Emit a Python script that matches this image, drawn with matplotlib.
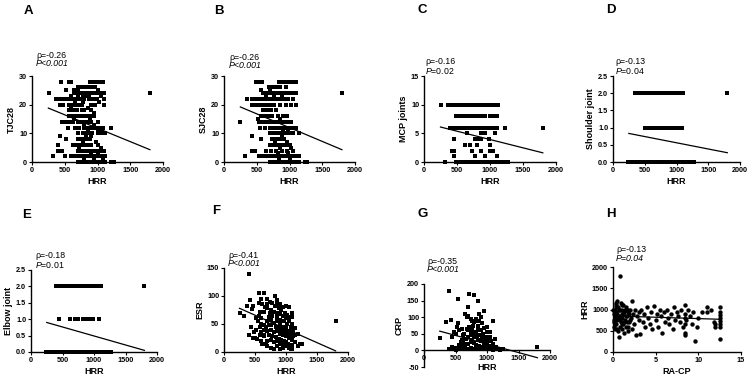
import numpy as np
import matplotlib
matplotlib.use("Agg")
import matplotlib.pyplot as plt

plt.rcParams['font.family'] = ['Liberation Sans', 'DejaVu Sans']
plt.rcParams['font.weight'] = 'bold'
plt.rcParams['mathtext.fontset'] = 'custom'
plt.rcParams['mathtext.rm'] = 'Liberation Sans:weight=normal'
plt.rcParams['mathtext.it'] = 'Liberation Sans:style=italic:weight=normal'

# ============================================================
# DATA
# ============================================================

# A: HRR vs TJC28, x values per TJC28 level
tjc28_rows = {
    28: [450, 560, 600, 880, 930, 980, 1030, 1090],
    26: [700, 740, 780, 820, 860, 900, 960],
    25: [520, 640, 700, 1000],
    24: [260, 640, 680, 720, 760, 800, 850, 900, 950, 1000, 1050, 1100, 1800],
    23: [600, 700, 780, 820, 870, 1060],
    22: [360, 420, 480, 530, 580, 640, 700, 740, 800, 870, 930, 990, 1100],
    21: [660, 780, 1020],
    20: [420, 480, 560, 610, 660, 700, 760, 900, 960, 1100],
    19: [600, 850],
    18: [560, 620, 680, 760, 800, 900],
    17: [950],
    16: [560, 600, 650, 700, 740, 800, 850, 900, 950],
    15: [640, 880],
    14: [460, 520, 580, 630, 700, 760, 800, 860, 900, 1000],
    13: [800, 950],
    12: [550, 650, 720, 800, 850, 900, 960, 1020, 1080, 1200],
    11: [850, 1000, 1050],
    10: [700, 780, 830, 880, 920, 1000, 1070, 1120],
    9: [430, 830, 900],
    8: [520, 700, 760, 820, 880],
    7: [780, 980],
    6: [400, 620, 680, 740, 800, 860, 900, 1000],
    5: [720, 1050],
    4: [400, 460, 700, 760, 820, 880, 940, 1000, 1060, 1100],
    3: [900, 1000],
    2: [320, 510, 600, 650, 700, 760, 820, 880, 940, 1000, 1060, 1120],
    1: [800, 950, 1080],
    0: [700, 760, 820, 880, 940, 1000, 1060, 1120, 1200, 1250],
}

# B: HRR vs SJC28
sjc28_rows = {
    28: [490, 540, 580, 840, 890, 940, 990, 1040, 1100],
    26: [680, 740, 800, 860, 940],
    25: [560, 700],
    24: [600, 650, 700, 750, 800, 850, 900, 950, 1000, 1050, 1100, 1800],
    23: [640, 760, 880],
    22: [350, 420, 470, 520, 580, 630, 690, 740, 800, 860, 920, 980, 1050],
    20: [420, 470, 540, 600, 650, 700, 760, 850, 940, 1020, 1100],
    18: [600, 660, 720, 800],
    16: [560, 620, 680, 740, 820, 900, 960],
    15: [520, 860],
    14: [250, 540, 600, 660, 720, 780, 840, 900, 960, 1020],
    12: [550, 620, 700, 760, 820, 880, 940, 1000, 1060, 1100],
    11: [900, 980],
    10: [700, 760, 820, 880, 940, 1000, 1060, 1150],
    9: [430, 880],
    8: [560, 740, 800, 860, 920],
    7: [780, 960],
    6: [700, 760, 820, 880, 940, 1000],
    5: [860, 1020],
    4: [420, 470, 640, 720, 800, 880, 960, 1050],
    3: [820, 980],
    2: [320, 530, 600, 660, 720, 780, 840, 900, 960, 1020, 1080, 1150],
    1: [840, 1000],
    0: [700, 760, 820, 880, 940, 1000, 1060, 1120, 1150, 1230, 1260],
}

# C: HRR vs MCP joints
mcp_rows = {
    10: [250, 370, 410, 450, 480, 520, 560, 600, 640, 680, 720, 760, 800, 840,
         880, 920, 960, 1000, 1040, 1080, 1120],
    8: [490, 530, 570, 610, 650, 690, 730, 770, 800, 840, 880, 930, 1000, 1040, 1080, 1100],
    6: [400, 440, 480, 520, 560, 600, 640, 680, 720, 760, 800, 840, 880, 920,
        960, 1000, 1040, 1080, 1110, 1220, 1810],
    5: [650, 860, 920, 1080],
    4: [460, 770, 810, 860, 980],
    3: [620, 690, 800, 1000],
    2: [420, 460, 720, 860, 1000, 1050],
    1: [460, 780, 930, 1110],
    0: [320, 490, 530, 570, 610, 650, 690, 730, 770, 810, 850, 890, 930, 970,
        1010, 1050, 1090, 1130, 1160, 1230, 1270],
}

# D: HRR vs shoulder joint
shoulder_rows = {
    2: [350, 400, 440, 480, 520, 560, 600, 640, 680, 720, 760, 800, 840, 880,
        920, 960, 1000, 1040, 1080, 1110, 1800],
    1: [500, 540, 580, 620, 660, 700, 740, 780, 820, 860, 900, 940, 980, 1020, 1090],
    0: [240, 280, 320, 380, 420, 460, 500, 540, 580, 620, 660, 700, 740, 780,
        820, 860, 900, 940, 980, 1020, 1060, 1100, 1140, 1180, 1220, 1270],
}

# E: HRR vs elbow joint
elbow_rows = {
    2: [400, 440, 480, 520, 560, 600, 640, 680, 720, 760, 800, 840, 880, 920,
        960, 1000, 1040, 1080, 1110, 1800],
    1: [440, 620, 700, 740, 830, 870, 910, 960, 990, 1080],
    0: [240, 280, 320, 360, 400, 440, 480, 520, 560, 600, 640, 680, 720, 760,
        800, 840, 880, 920, 960, 1000, 1040, 1080, 1120, 1160, 1200, 1240, 1270],
}

# F: HRR vs ESR
esr_pts = [
    (250, 70), (320, 65), (370, 82), (400, 140), (420, 92), (450, 76), (470, 82),
    (430, 45), (400, 30), (460, 25), (500, 25), (540, 24), (480, 35), (520, 40),
    (560, 105), (650, 105), (600, 95), (560, 88), (620, 85), (700, 95), (740, 90),
    (780, 88), (820, 100), (860, 92), (900, 85), (950, 80), (1000, 82), (1050, 80),
    (1100, 70), (560, 65), (600, 60), (650, 72), (700, 78), (750, 75), (800, 72),
    (850, 70), (900, 68), (950, 65), (1000, 60), (1050, 55), (1100, 50), (600, 50),
    (650, 48), (700, 55), (750, 58), (800, 52), (850, 55), (900, 50), (950, 45),
    (1000, 42), (1050, 38), (1100, 35), (1150, 30), (1200, 32), (600, 35), (650, 30),
    (700, 38), (750, 40), (800, 35), (850, 38), (900, 32), (950, 30), (1000, 28),
    (1050, 25), (1100, 22), (1150, 18), (1200, 10), (1250, 15), (620, 15), (680, 14),
    (700, 20), (750, 22), (800, 18), (850, 20), (900, 15), (950, 12), (1000, 10),
    (1050, 8), (1080, 5), (1100, 12), (750, 8), (800, 6), (850, 10), (900, 5),
    (950, 8), (700, 10), (650, 28), (550, 55), (520, 60), (580, 72), (720, 62),
    (780, 64), (820, 82), (880, 78), (920, 75), (980, 70), (1020, 66), (1060, 62),
    (760, 48), (840, 45), (880, 42), (920, 40), (960, 38), (1000, 35), (1040, 32),
    (1080, 30), (1120, 28), (720, 30), (780, 28), (840, 26), (880, 24), (920, 22),
    (960, 20), (1000, 18), (1040, 15), (1100, 5), (1800, 56), (1230, 15), (1150, 42),
    (1100, 62), (850, 85), (700, 85), (660, 80), (740, 70), (860, 62), (900, 58),
    (960, 55), (1020, 50), (1080, 45), (1120, 40), (640, 40), (680, 45), (720, 48),
    (580, 45), (600, 20), (580, 30),
]

# G: HRR vs CRP
crp_pts = [
    (250, 37), (350, 86), (400, 180), (430, 92), (450, 40), (470, 55), (500, 50),
    (520, 70), (540, 155), (540, 82), (560, 60), (600, 65), (620, 45), (650, 110),
    (680, 100), (700, 132), (720, 170), (700, 105), (740, 95), (800, 168), (850, 148),
    (760, 88), (800, 85), (840, 90), (880, 88), (920, 82), (960, 120), (1000, 70),
    (1050, 55), (1100, 88), (620, 30), (660, 35), (700, 40), (740, 45), (780, 50),
    (820, 55), (860, 60), (900, 62), (940, 50), (980, 40), (1020, 35), (1060, 28),
    (1100, 20), (1150, 10), (1200, 5), (1250, 3), (450, 10), (500, 8), (550, 15),
    (600, 12), (650, 20), (700, 18), (750, 25), (800, 22), (850, 30), (900, 28),
    (950, 20), (1000, 15), (1050, 12), (1100, 8), (400, 5), (450, 3), (500, 2),
    (550, 5), (600, 3), (650, 6), (700, 4), (750, 8), (800, 5), (850, 3), (900, 6),
    (950, 4), (1000, 5), (1050, 3), (1100, 2), (1150, 4), (1200, 2), (680, 65),
    (720, 70), (760, 62), (800, 40), (840, 42), (880, 45), (920, 38), (960, 32),
    (1000, 25), (600, 30), (640, 50), (580, 25), (760, 30), (820, 15), (880, 12),
    (940, 10), (1800, 10), (780, 75), (860, 75), (900, 100), (880, 110), (830, 95),
    (750, 55), (700, 60), (1000, 55), (950, 68), (1050, 40), (1120, 35),
]

# H: RA-CP vs HRR
racp_pts = [
    (0.8, 1790), (0.1, 700), (0.1, 900), (0.2, 550), (0.2, 1000), (0.3, 800),
    (0.3, 1100), (0.4, 650), (0.4, 950), (0.5, 1200), (0.5, 750), (0.6, 1050),
    (0.6, 500), (0.7, 850), (0.7, 350), (0.8, 1000), (0.8, 600), (0.9, 1150),
    (0.9, 700), (1.0, 900), (1.0, 550), (1.1, 1000), (1.1, 800), (1.2, 650),
    (1.2, 1100), (1.3, 950), (1.3, 450), (1.4, 750), (1.5, 1050), (1.5, 600),
    (1.6, 850), (1.7, 500), (1.8, 950), (1.9, 700), (2.0, 1000), (2.1, 800),
    (2.2, 1200), (2.2, 550), (2.3, 900), (2.5, 650), (2.6, 1000), (2.7, 400),
    (2.8, 850), (3.0, 750), (3.1, 950), (3.2, 420), (3.3, 1000), (3.5, 700),
    (3.6, 900), (3.8, 600), (4.0, 1050), (4.1, 800), (4.3, 650), (4.5, 950),
    (4.6, 550), (4.8, 1080), (5.0, 750), (5.1, 900), (5.3, 600), (5.5, 1000),
    (5.6, 850), (5.8, 450), (6.0, 950), (6.1, 700), (6.3, 1000), (6.5, 800),
    (6.6, 650), (6.8, 900), (7.0, 550), (7.1, 1050), (7.3, 750), (7.5, 950),
    (7.6, 850), (7.8, 700), (8.0, 1000), (8.2, 600), (8.4, 1100), (8.4, 900),
    (8.4, 800), (8.4, 650), (8.4, 450), (8.4, 400), (8.6, 750), (8.8, 1000),
    (9.0, 850), (9.2, 650), (9.4, 950), (9.6, 250), (9.8, 600), (10.0, 800),
    (10.4, 950), (11.0, 1070), (11.0, 950), (11.5, 1000), (11.8, 700), (12.0, 650),
    (12.0, 580), (12.5, 1050), (12.5, 950), (12.5, 870), (12.5, 800), (12.5, 720),
    (12.5, 650), (12.5, 580), (12.5, 300), (0.1, 600), (0.2, 850), (0.3, 950),
    (0.4, 1150), (0.5, 900), (0.6, 800), (0.7, 1000), (0.8, 750), (0.9, 850),
    (1.0, 1100), (1.1, 650), (1.2, 900), (1.3, 700), (1.4, 1000), (1.5, 850),
    (1.6, 700), (1.7, 1000), (1.8, 600), (1.9, 900), (2.0, 750), (0.05, 1000),
    (0.15, 750), (0.25, 650), (0.35, 1050), (0.45, 550),
]

# fitted regression lines (x start/end, y start/end) as drawn in the figure
fit_x_hrr = [250, 1800]
fit_a = [18.8, 4.3]
fit_b = [19.2, 4.3]
fit_c = [6.1, 1.6]
fit_d = [0.83, 0.27]
fit_e = [0.9, 0.05]
fit_f = [78, 2]
fit_g = [58, -22]
fit_x_racp = [0, 12.5]
fit_h = [850, 770]

rho_text = ["ρ=-0.26", "ρ=-0.26", "ρ=-0.16", "ρ=-0.13",
            "ρ=-0.18", "ρ=-0.41", "ρ=-0.35", "ρ=-0.13"]
p_text = ["P<0.001", "P<0.001", r"$\mathit{P}$=0.02", r"$\mathit{P}$=0.04",
          r"$\mathit{P}$=0.01", "P<0.001", "P<0.001", "P=0.04"]
p_italic = [True, True, False, False, False, True, True, True]
panel_letters = list("ABCDEFGH")


def rows_to_xy(rows):
    xs, ys = [], []
    for level, xvals in rows.items():
        xs += xvals
        ys += [level] * len(xvals)
    return xs, ys


def pts_to_xy(pts):
    return [p[0] for p in pts], [p[1] for p in pts]


# ============================================================
# LAYOUT (pixel boxes: left, right, top, bottom)
# ============================================================

W, H = 750, 375
fig = plt.figure(figsize=(7.5, 3.75), dpi=100)


def make_ax(l, r, t, b):
    return fig.add_axes([l / W, (H - b) / H, (r - l) / W, (b - t) / H])


boxes = [
    (32, 163, 76, 162), (224, 355, 76, 162), (424, 556, 76, 162), (613, 740, 76, 162),
    (31, 157, 270, 352), (224, 348, 268, 352), (424, 550, 284, 367), (613, 741, 267, 352),
]
letter_pos = [(24, 11), (214, 11), (417, 10), (606, 10),
              (22, 215), (212, 211), (417, 214), (606, 214)]
rho_pos = [(36, 55), (229, 57), (425, 62), (615, 62),
           (35, 256), (228, 255), (427, 261), (616, 250)]

panels = [
    (rows_to_xy(tjc28_rows), fit_x_hrr, fit_a, "HRR", "TJC28", (0, 2000, 500), (0, 30, 10), "s", "%d"),
    (rows_to_xy(sjc28_rows), fit_x_hrr, fit_b, "HRR", "SJC28", (0, 2000, 500), (0, 30, 10), "s", "%d"),
    (rows_to_xy(mcp_rows), fit_x_hrr, fit_c, "HRR", "MCP joints", (0, 2000, 500), (0, 15, 5), "s", "%d"),
    (rows_to_xy(shoulder_rows), fit_x_hrr, fit_d, "HRR", "Shoulder joint", (0, 2000, 500), (0, 2.5, 0.5), "s", "%.1f"),
    (rows_to_xy(elbow_rows), fit_x_hrr, fit_e, "HRR", "Elbow joint", (0, 2000, 500), (0, 2.5, 0.5), "s", "%.1f"),
    (pts_to_xy(esr_pts), fit_x_hrr, fit_f, "HRR", "ESR", (0, 2000, 500), (0, 150, 50), "s", "%d"),
    (pts_to_xy(crp_pts), fit_x_hrr, fit_g, "HRR", "CRP", (0, 2000, 500), (-50, 200, 50), "s", "%d"),
    (pts_to_xy(racp_pts), fit_x_racp, fit_h, "RA-CP", "HRR", (0, 15, 5), (0, 2000, 500), "o", "%d"),
]

for i, ((xs, ys), fx, fy, xl, yl, xr, yr, mk, yfmt) in enumerate(panels):
    ax = make_ax(*boxes[i])
    ax.scatter(xs, ys, marker=mk, s=10, color="black", linewidths=0, zorder=3,
               clip_on=False)
    ax.plot(fx, fy, color="black", lw=0.9, zorder=4)

    ax.set_xlim(xr[0], xr[1])
    ax.set_ylim(yr[0], yr[1])
    ax.set_xticks(np.arange(xr[0], xr[1] + xr[2] / 2, xr[2]))
    ax.set_yticks(np.arange(yr[0], yr[1] + yr[2] / 2, yr[2]))
    ax.yaxis.set_major_formatter(matplotlib.ticker.FormatStrFormatter(yfmt))

    for side in ["top", "right"]:
        ax.spines[side].set_visible(False)
    for side in ["left", "bottom"]:
        ax.spines[side].set_linewidth(1.0)
    if yr[0] < 0:
        ax.spines["bottom"].set_position(("data", 0))

    ax.tick_params(direction="out", length=2, width=0.8, labelsize=5.2, pad=1.5)
    ax.set_xlabel(xl, fontsize=6.5, fontweight="bold", labelpad=2)
    ax.set_ylabel(yl, fontsize=6.5, fontweight="bold", labelpad=2)
    if yr[0] < 0:
        ax.xaxis.label.set_va("center")
        ax.xaxis.set_label_coords(0.5, -0.01)

    lx, ly = letter_pos[i]
    fig.text(lx / W, 1 - ly / H, panel_letters[i], fontsize=9.5, fontweight="bold",
             va="center", ha="left")
    rx, ry = rho_pos[i]
    fig.text(rx / W, 1 - ry / H, rho_text[i], fontsize=6.3, fontweight="normal",
             va="center", ha="left")
    fig.text(rx / W, 1 - (ry + 8.5) / H, p_text[i], fontsize=6.3, fontweight="normal",
             fontstyle="italic" if p_italic[i] else "normal", va="center", ha="left")

fig.savefig("out.png", dpi=100)
